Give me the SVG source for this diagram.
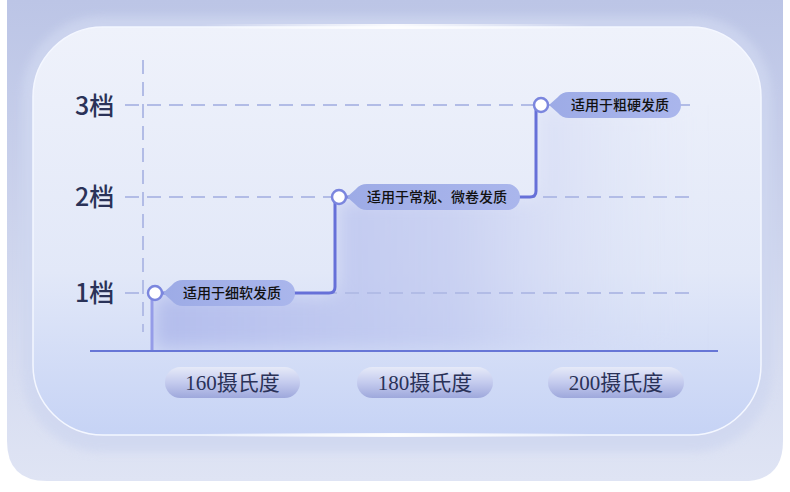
<svg xmlns="http://www.w3.org/2000/svg" width="790" height="492" viewBox="0 0 790 492">
<defs>
<linearGradient id="bgOuter" x1="0" y1="0" x2="0" y2="1">
<stop offset="0" stop-color="#bcc5e6"/>
<stop offset="1" stop-color="#dfe4f4"/>
</linearGradient>
<linearGradient id="card" x1="0" y1="0" x2="0" y2="1">
<stop offset="0" stop-color="#eff2fb"/>
<stop offset="0.6" stop-color="#e2e8f8"/>
<stop offset="1" stop-color="#c6d3f5"/>
</linearGradient>
<linearGradient id="area" x1="0" y1="0" x2="1" y2="0">
<stop offset="0" stop-color="#aab4ea" stop-opacity="0.8"/>
<stop offset="0.55" stop-color="#b9c2ee" stop-opacity="0.6"/>
<stop offset="1" stop-color="#d7ddf5" stop-opacity="0"/>
</linearGradient>
<linearGradient id="tag" x1="0" y1="0" x2="1" y2="0">
<stop offset="0" stop-color="#9dabe6"/>
<stop offset="1" stop-color="#aab6ec"/>
</linearGradient>
<linearGradient id="pill" x1="0" y1="0" x2="0" y2="1">
<stop offset="0" stop-color="#e6eaf8"/>
<stop offset="0.5" stop-color="#c4cbee"/>
<stop offset="1" stop-color="#9ea8dc"/>
</linearGradient>
<linearGradient id="glow" x1="0" y1="0" x2="1" y2="0">
<stop offset="0" stop-color="#ffffff" stop-opacity="0"/>
<stop offset="0.5" stop-color="#ffffff" stop-opacity="0.9"/>
<stop offset="1" stop-color="#ffffff" stop-opacity="0"/>
</linearGradient>
<filter id="blur" x="-10%" y="-10%" width="120%" height="120%"><feGaussianBlur stdDeviation="4"/></filter>
<filter id="soft" x="-10%" y="-10%" width="120%" height="120%"><feGaussianBlur stdDeviation="10"/></filter>
<clipPath id="areaClip"><path d="M152,350 V293 H335 V197 H536 V105 H740 V350 Z"/></clipPath>
</defs>
<style>
.grid{stroke:#b2bce6;stroke-width:2;stroke-dasharray:14 8;fill:none}
.lvl{font-family:"Noto Sans CJK SC","Noto Sans",sans-serif;font-size:25px;font-weight:500;fill:#2a3258}
.tagt{font-family:"Noto Sans CJK SC",sans-serif;font-size:14px;font-weight:500;fill:#111}
.temp{font-family:"Liberation Serif","Noto Sans CJK SC",serif;font-size:21px;fill:#2a3258;text-anchor:middle}
.dot{fill:#ffffff;stroke:#7b86de;stroke-width:2.5}
.step{stroke:#6670d8;stroke-width:3;fill:none;stroke-linejoin:round}
</style>
<rect width="790" height="492" fill="#ffffff"/>
<path d="M7,0 H783 V441 Q783,481 743,481 H47 Q7,481 7,441 Z" fill="url(#bgOuter)"/>
<rect x="22" y="16" width="750" height="436" rx="80" fill="#cfd7f0" opacity="0.8" filter="url(#blur)"/>
<rect x="33" y="27" width="728" height="408" rx="70" fill="url(#card)" stroke="#f4f7ff" stroke-width="1.5"/>
<rect x="200" y="24" width="390" height="5" fill="url(#glow)"/>
<rect x="200" y="433" width="390" height="4" fill="url(#glow)"/>
<g id="area-fill" clip-path="url(#areaClip)">
<path d="M152,350 V293 H335 V197 H536 V105 H700 V350 Z" fill="url(#area)" filter="url(#soft)"/>
</g>
<g id="grid">
<line class="grid" x1="143" y1="60" x2="143" y2="332"/>
<line class="grid" x1="125" y1="105" x2="690" y2="105"/>
<line class="grid" x1="125" y1="197" x2="690" y2="197"/>
<line class="grid" x1="125" y1="293" x2="690" y2="293"/>
</g>
<g id="axis-labels">
<text class="lvl" x="75" y="115">3档</text>
<text class="lvl" x="75" y="206">2档</text>
<text class="lvl" x="75" y="302">1档</text>
</g>
<g id="connectors">
<line x1="90" y1="351" x2="718" y2="351" stroke="#6776d6" stroke-width="2"/>
<line x1="152" y1="350" x2="152" y2="296" stroke="#959ce8" stroke-width="3"/>
<path class="step" d="M160,293 H329 Q335,293 335,287 V203 Q335,197 341,197 H530 Q536,197 536,191 V108"/>
</g>
<g id="node-l1">
<path d="M163,293 L172,285 Q176,280 183,280 H282 A13,13 0 0 1 282,306 H183 Q176,306 172,301 Z" fill="url(#tag)"/>
<circle class="dot" cx="155" cy="293" r="7"/>
<text class="tagt" x="183" y="298">适用于细软发质</text>
</g>
<g id="node-l2">
<path d="M347,197 L356,189 Q360,184 367,184 H507 A13,13 0 0 1 507,210 H367 Q360,210 356,205 Z" fill="url(#tag)"/>
<circle class="dot" cx="339" cy="197" r="7"/>
<text class="tagt" x="367" y="202">适用于常规、微卷发质</text>
</g>
<g id="node-l3">
<path d="M549,105 L558,97 Q562,92 569,92 H668 A13,13 0 0 1 668,118 H569 Q562,118 558,113 Z" fill="url(#tag)"/>
<line x1="681" y1="105" x2="690" y2="105" stroke="#b2bce6" stroke-width="2"/>
<circle class="dot" cx="541" cy="105" r="7"/>
<text class="tagt" x="571" y="110">适用于粗硬发质</text>
</g>
<g id="temp-160">
<rect x="165" y="367" width="135" height="31" rx="15.5" fill="url(#pill)"/>
<text class="temp" x="232.5" y="390">160摄氏度</text>
</g>
<g id="temp-180">
<rect x="357" y="367" width="136" height="31" rx="15.5" fill="url(#pill)"/>
<text class="temp" x="425" y="390">180摄氏度</text>
</g>
<g id="temp-200">
<rect x="548" y="367" width="136" height="31" rx="15.5" fill="url(#pill)"/>
<text class="temp" x="616" y="390">200摄氏度</text>
</g>
</svg>
